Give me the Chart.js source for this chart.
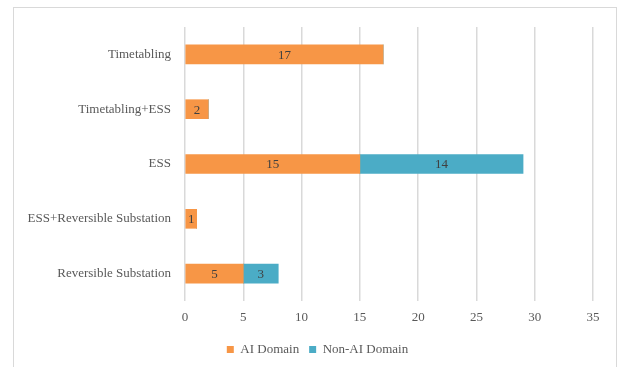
<!DOCTYPE html>
<html>
<head>
<meta charset="utf-8">
<script src="https://cdn.jsdelivr.net/npm/chart.js@4/dist/chart.umd.min.js"></script>
<style>
  body { margin: 0; background: #fff; }
  #frame { position: absolute; left: 13px; top: 7px; width: 602px; height: 380px; border: 1.5px solid #d9d9d9; }
  #wrap { position: absolute; left: 0; top: 0; width: 619px; height: 367px; }
</style>
</head>
<body>
<div id="frame"></div>
<div id="wrap"><canvas id="chart"></canvas></div>
<script>
var categories = ["Timetabling", "Timetabling+ESS", "ESS", "ESS+Reversible Substation", "Reversible Substation"];
var ai_domain = [17, 2, 15, 1, 5];
var non_ai_domain = [0, 0, 14, 0, 3];
var x_ticks = [0, 5, 10, 15, 20, 25, 30, 35];

var font_name = "'Liberation Serif', 'Times New Roman', serif";

// writes the value in the middle of every bar
var barLabels = {
    id: 'barLabels',
    afterDatasetsDraw: function(chart){
        var ctx = chart.ctx;
        ctx.save();
        ctx.font = "13px " + font_name;
        ctx.fillStyle = "#404040";
        ctx.textAlign = "center";
        ctx.textBaseline = "middle";
        chart.data.datasets.forEach(function(ds, i){
            var meta = chart.getDatasetMeta(i);
            meta.data.forEach(function(bar, j){
                var v = ds.data[j];
                if(!v) return;
                var p = bar.getProps(['x', 'y', 'base'], true);
                ctx.fillText(String(v), (p.x + p.base) / 2, p.y + 1);
            });
        });
        ctx.restore();
    }
};

// legend sits a bit right of the plot centre, as in the frame
var legendShift = {
    id: 'legendShift',
    afterLayout: function(chart){
        if(chart.legend){
            chart.legend.left += 11;
            chart.legend.right += 11;
        }
    }
};

var ctx = document.getElementById("chart").getContext('2d');
new Chart(ctx, {
    type: 'bar',
    data: {
        labels: categories,
        datasets: [{
            label: 'AI Domain',
            backgroundColor: '#F79646',
            borderWidth: 0,
            barThickness: 19,
            data: ai_domain
        }, {
            label: 'Non-AI Domain',
            backgroundColor: '#4BACC6',
            borderWidth: 0,
            barThickness: 19,
            data: non_ai_domain
        }]
    },
    plugins: [barLabels, legendShift],
    options: {
        indexAxis: 'y',
        responsive: true,
        maintainAspectRatio: false,
        animation: false,
        layout: { padding: { left: 20, right: 26, top: 27, bottom: 1 } },
        plugins: {
            legend: {
                position: 'bottom',
                labels: {
                    boxWidth: 7,
                    boxHeight: 7,
                    padding: 10,
                    color: '#595959',
                    font: { family: font_name, size: 13 }
                }
            },
            tooltip: { enabled: false }
        },
        scales: {
            x: {
                stacked: true,
                min: 0,
                max: 35,
                afterBuildTicks: function(scale){
                    scale.ticks = x_ticks.map(function(v){ return { value: v }; });
                },
                afterFit: function(scale){ scale.height = 32; },
                grid: { color: '#d9d9d9', lineWidth: 1.5, drawTicks: false },
                border: { display: false },
                ticks: {
                    padding: 9,
                    color: '#595959',
                    font: { family: font_name, size: 13 }
                }
            },
            y: {
                stacked: true,
                afterFit: function(scale){ scale.width = 165; },
                grid: { display: false },
                border: { display: false },
                ticks: {
                    padding: 6,
                    color: '#595959',
                    font: { family: font_name, size: 13 }
                }
            }
        }
    }
});
</script>
</body>
</html>
